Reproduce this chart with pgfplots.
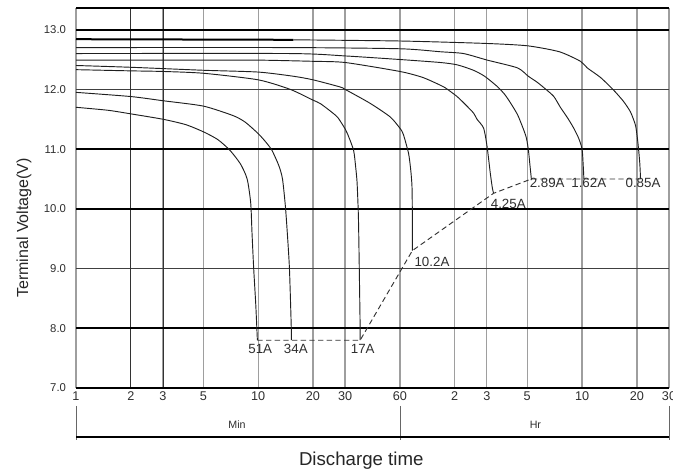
\documentclass[border=0pt]{standalone}
\usepackage{fontspec}
\setmainfont{Liberation Sans}
\usepackage{pgfplots}
\pgfplotsset{compat=1.18}
\definecolor{gridgray}{gray}{0.62}
\definecolor{curvec}{gray}{0.12}
\definecolor{labc}{gray}{0.18}

\begin{document}
\begin{tikzpicture}
\begin{axis}[
  at={(0,0)}, anchor=south west, scale only axis,
  width=444.75pt, height=284.8pt,
  xmode=log, xmin=1, xmax=1800, ymin=7, ymax=13.358,
  clip=false,
  axis line style={draw=none},
  major tick length=0pt, minor tick length=0pt,
  xtick={1,2,3,5,10,20,30,60,120,180,300,600,1200,1800},
  xticklabels={1,2,3,5,10,20,30,60,2,3,5,10,20,30},
  ytick={7,8,9,10,11,12,13},
  yticklabels={7.0,8.0,9.0,10.0,11.0,12.0,13.0},
  /pgf/number format/assume math mode=true,
  xticklabel style={font=\fontsize{9.5}{11}\selectfont, text=labc, yshift=1pt},
  yticklabel style={font=\fontsize{8.5}{10}\selectfont, text=labc, xshift=-4pt},
  grid=major,
  x grid style={gridgray, line width=0.9pt},
  y grid style={black!75, line width=0.8pt},
  extra x ticks={2,3},
  extra x tick labels={},
  extra x tick style={grid=major, x grid style={black!80, line width=0.6pt}},
  extra y ticks={7,8,10,11,13},
  extra y tick labels={},
  extra y tick style={grid=major, y grid style={black, line width=1.6pt}},
]
% top frame
\draw[black, line width=1.6pt] (rel axis cs:0,1) -- (rel axis cs:1,1);

% 51A
\addplot[curvec, line width=0.7pt, smooth, tension=0.4] coordinates {
(1,11.70)(1.5,11.65)(2,11.59)(3,11.50)(4,11.41)(5,11.29)(6,11.16)(7,10.98)(8,10.75)(8.7,10.50)(9.1,10.1)(9.25,9.6)(9.45,9.0)(9.7,8.4)(9.9,7.8)};
% 34A
\addplot[curvec, line width=0.7pt, smooth, tension=0.4] coordinates {
(1,11.95)(2,11.88)(3,11.81)(5,11.72)(7.3,11.56)(8.5,11.45)(10,11.26)(11,11.12)(11.9,10.98)(13,10.72)(13.6,10.5)(14.1,10.05)(14.45,9.6)(14.85,9.0)(15.2,8.0)(15.2,7.8)};
% 17A
\addplot[curvec, line width=0.7pt, smooth, tension=0.4] coordinates {
(1,12.33)(2,12.31)(3,12.30)(5,12.27)(10,12.16)(15,12.0)(20,11.82)(22,11.76)(25.8,11.6)(27.5,11.52)(30,11.34)(31,11.25)(33.4,10.98)(34.3,10.7)(34.9,10.45)(35.4,10.0)(35.6,9.7)(35.9,9.0)(36.3,8.0)(36.3,7.8)};
% 10.2A
\addplot[curvec, line width=0.7pt, smooth, tension=0.4] coordinates {
(1,12.40)(2,12.37)(5,12.32)(10,12.29)(15.6,12.22)(20,12.16)(28.2,12.04)(30,12.0)(41,11.77)(53,11.54)(60,11.35)(62.6,11.25)(66.9,10.93)(68.8,10.65)(69.9,10.37)(70.2,9.9)(70.2,9.3)};
% 4.25A
\addplot[curvec, line width=0.7pt, smooth, tension=0.4] coordinates {
(1,12.49)(5,12.49)(10,12.49)(20,12.47)(30,12.45)(60,12.30)(80,12.2)(100,12.07)(106,12.03)(123.6,11.88)(140,11.72)(152.5,11.6)(159,11.5)(172.9,11.35)(180.6,11.04)(188,10.6)(193,10.35)(196,10.26)};
% 2.89A
\addplot[curvec, line width=0.7pt, smooth, tension=0.4] coordinates {
(1,12.60)(15,12.60)(30,12.56)(60,12.50)(100,12.45)(124,12.41)(152,12.32)(175,12.22)(205,12.05)(225,11.92)(242,11.78)(265,11.58)(282,11.38)(296,11.2)(304,11.0)(310,10.75)(316,10.5)};
% 1.62A
\addplot[curvec, line width=0.7pt, smooth, tension=0.4] coordinates {
(1,12.70)(15,12.70)(60,12.68)(100,12.63)(134,12.60)(181,12.49)(265,12.36)(304,12.22)(340,12.12)(380,12.0)(420,11.88)(456,11.7)(500,11.52)(540,11.35)(575,11.18)(600,11.0)(608,10.75)(614,10.5)};
% 0.85A
\addplot[black, line width=1.5pt] coordinates {(1,12.84)(15.6,12.83)};
\addplot[curvec, line width=0.7pt, smooth, tension=0.4] coordinates {
(15.6,12.83)(60,12.81)(175,12.77)(300,12.73)(450,12.63)(588,12.47)(640,12.36)(757,12.2)(892,11.99)(1012,11.8)(1107,11.62)(1178,11.4)(1205,11.2)(1225,11.0)(1245,10.75)(1256,10.5)};

% end-of-discharge dashed line
\addplot[black!80, line width=0.7pt, dash pattern=on 4pt off 2.5pt] coordinates {
(9.9,7.8)(36.3,7.8)(70.2,9.3)(196,10.26)(316,10.5)(1256,10.5)};

% curve labels
\begin{scope}[every node/.style={font=\fontsize{10}{12}\selectfont, text=labc, inner sep=0pt}]
\node at (axis cs:10.27,7.66) {51A};
\node at (axis cs:16.1,7.66) {34A};
\node at (axis cs:37.5,7.66) {17A};
\node at (axis cs:90,9.11) {10.2A};
\node at (axis cs:236,10.09) {4.25A};
\node at (axis cs:386,10.43) {2.89A};
\node at (axis cs:653,10.43) {1.62A};
\node at (axis cs:1296,10.43) {0.85A};
\end{scope}

% Min / Hr bracket
\draw[black!60, line width=0.5pt] (axis cs:1,6.70) -- (axis cs:1,6.13);
\draw[black!60, line width=0.5pt] (axis cs:60,6.70) -- (axis cs:60,6.13);
\draw[black!60, line width=0.5pt] (axis cs:1800,6.70) -- (axis cs:1800,6.13);
\draw[black, line width=1.2pt] (axis cs:1,6.18) -- (axis cs:1800,6.18);
\node[font=\fontsize{8}{10}\selectfont, text=labc] at (axis cs:7.66,6.38) {Min};
\node[font=\fontsize{8}{10}\selectfont, text=labc] at (axis cs:332.5,6.38) {Hr};
\node[font=\fontsize{14}{16}\selectfont, text=black!85] at (axis cs:36.8,5.78) {Discharge time};
\node[rotate=90, font=\fontsize{12}{14}\selectfont, text=black!85] at ([xshift=-39pt]axis cs:1,9.68) {Terminal Voltage(V)};
\end{axis}
\pgfresetboundingbox
\useasboundingbox (-57pt,-63pt) rectangle (447.75pt,291pt);
\end{tikzpicture}
\end{document}
